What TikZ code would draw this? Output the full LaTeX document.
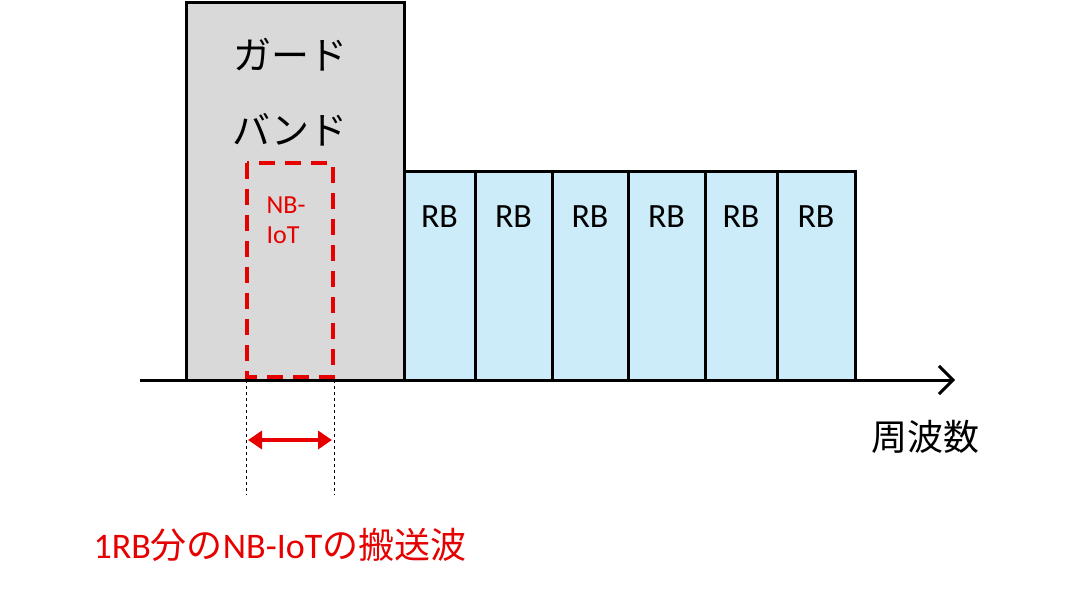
\documentclass[tikz,border=0pt]{standalone}
\usepackage{fontspec}
\setmainfont{Carlito}
\newfontfamily\jp{Noto Sans CJK JP}
\usetikzlibrary{arrows.meta}
\definecolor{rbblue}{RGB}{204,236,250}
\definecolor{gbgray}{RGB}{217,217,217}
\definecolor{myred}{RGB}{230,0,0}
\begin{document}
\begin{tikzpicture}[x=1pt,y=-1pt,
  rb/.style={draw=black,line width=3pt,fill=rbblue},
  lbl/.style={font=\fontsize{34}{36}\selectfont}]
\useasboundingbox (0,0) rectangle (1067,594);
\draw[line width=3pt,fill=gbgray] (186,3) rectangle (404,380);
\node[font=\jp\fontsize{38}{40}\selectfont] (g1) at (290,55) {ガード};
\node[font=\jp\fontsize{38}{40}\selectfont] (g2) at (290,130) {バンド};
\foreach \a/\b/\n in {404/475/1,475/552/2,552/628/3,628/705/4,705/777/5,777/855/6}{
  \draw[rb] (\a,171) rectangle (\b,380);
  \node[lbl] (rb\n) at ({(\a+\b)/2},217) {RB};
}
\draw[myred,line width=4pt,dash pattern=on 16pt off 10pt] (247,163) rectangle (333,377);
\node[myred,font=\fontsize{26}{30}\selectfont,align=left] (nb) at (286,220) {NB-\\IoT};
\coordinate (a0) at (140,380); \coordinate (a1) at (955,380);
\draw[line width=3pt,-{Straight Barb[length=14pt,width=28pt,line width=3pt]}] (a0) -- (a1);
\coordinate (d1t) at (246,380); \coordinate (d1b) at (246,495);
\coordinate (d2t) at (334,380); \coordinate (d2b) at (334,495);
\draw[dashed,line width=0.8pt] (d1t) -- (d1b);
\draw[dashed,line width=0.8pt] (d2t) -- (d2b);
\coordinate (r0) at (248,440); \coordinate (r1) at (332,440);
\draw[myred,line width=4pt,{Triangle[length=14pt,width=18pt]}-{Triangle[length=14pt,width=18pt]}] (r0) -- (r1);
\node[font=\jp\fontsize{36}{40}\selectfont] (f) at (925,437) {周波数};
\node[myred,font=\fontsize{36}{40}\selectfont] (cap) at (280,545) {1RB{\jp 分の}NB-IoT{\jp の搬送波}};
\end{tikzpicture}
\end{document}
